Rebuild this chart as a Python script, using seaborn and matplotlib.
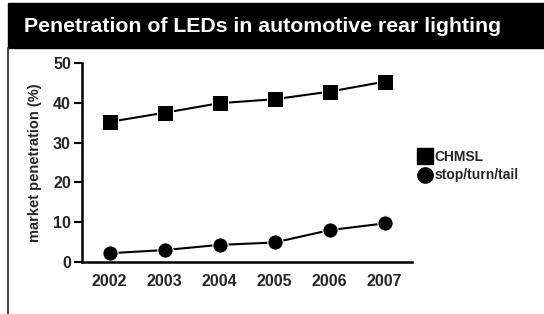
import matplotlib
matplotlib.use("Agg")
import matplotlib.pyplot as plt
import matplotlib.patches as mpatches
from matplotlib.lines import Line2D
import numpy as np
import pandas as pd
import seaborn as sns

sns.set_style("white")
plt.rcParams['font.family'] = ['Liberation Sans', 'DejaVu Sans']

# DATA
years = ['2002', '2003', '2004', '2005', '2006', '2007']
chmsl = [35.2, 37.5, 39.9, 40.9, 42.8, 45.3]
stop_turn_tail = [2.2, 3.0, 4.3, 4.9, 8.0, 9.7]

df = pd.DataFrame({
    'pos': list(range(len(years))) * 2,
    'value': chmsl + stop_turn_tail,
    'series': ['CHMSL'] * len(years) + ['stop/turn/tail'] * len(years),
})

fig = plt.figure(figsize=(5.44, 3.14), dpi=100)
fig.patch.set_facecolor('white')

# TITLE BAND
fig.patches.append(mpatches.Rectangle((8/544, 1 - 48/314), 1, 45/314,
                                      transform=fig.transFigure, color='black', zorder=0))
fig.lines.append(Line2D([8/544, 8/544], [0, 1 - 48/314], transform=fig.transFigure,
                        color='#222222', lw=1.2))
fig.text(24/544, 1 - 27/314, 'Penetration of LEDs in automotive rear lighting',
         color='white', fontsize=15.3, fontweight='bold', va='center', ha='left')

ax = fig.add_axes([82/544, 1 - 262/314, 330/544, 199/314])
sns.lineplot(data=df, x='pos', y='value', hue='series', style='series',
             markers={'CHMSL': 's', 'stop/turn/tail': 'o'}, dashes=False,
             palette={'CHMSL': 'black', 'stop/turn/tail': 'black'},
             markersize=11, linewidth=1.5, legend=False, ax=ax)

ax.set_xlim(-0.5, len(years) - 0.5)
ax.set_ylim(0, 50)
ax.set_xticks(range(len(years)))
ax.set_xticklabels(years, fontsize=11.5, fontweight='bold')
ax.set_xticks(np.arange(-0.5, len(years)), minor=True)
ax.tick_params(axis='x', which='major', length=0, pad=9)
ax.tick_params(axis='x', which='minor', length=6, width=1.5, direction='out', color='black')
ax.set_yticks([0, 10, 20, 30, 40, 50])
ax.set_yticklabels([0, 10, 20, 30, 40, 50], fontsize=11.5, fontweight='bold')
ax.tick_params(axis='y', length=6, width=1.5, direction='out', color='black', pad=2, left=True)
ax.set_xlabel('')
ax.set_ylabel('market penetration (%)', fontsize=10.5, fontweight='bold', labelpad=8)
sns.despine(ax=ax)
for s in ['left', 'bottom']:
    ax.spines[s].set_linewidth(1.8)
    ax.spines[s].set_color('black')
ax.spines['bottom'].set_bounds(-0.5, len(years) - 0.5)

# LEGEND
handles = [Line2D([], [], marker='s', color='black', linestyle='', markersize=11),
           Line2D([], [], marker='o', color='black', linestyle='', markersize=11)]
fig.legend(handles, ['CHMSL', 'stop/turn/tail'], loc='center left',
           bbox_to_anchor=(414/544, 1 - 166/314), frameon=False,
           prop={'size': 10, 'weight': 'bold'}, handlelength=0.8,
           handletextpad=0.3, labelspacing=0.35, borderaxespad=0)

fig.savefig('out.png', dpi=100)
